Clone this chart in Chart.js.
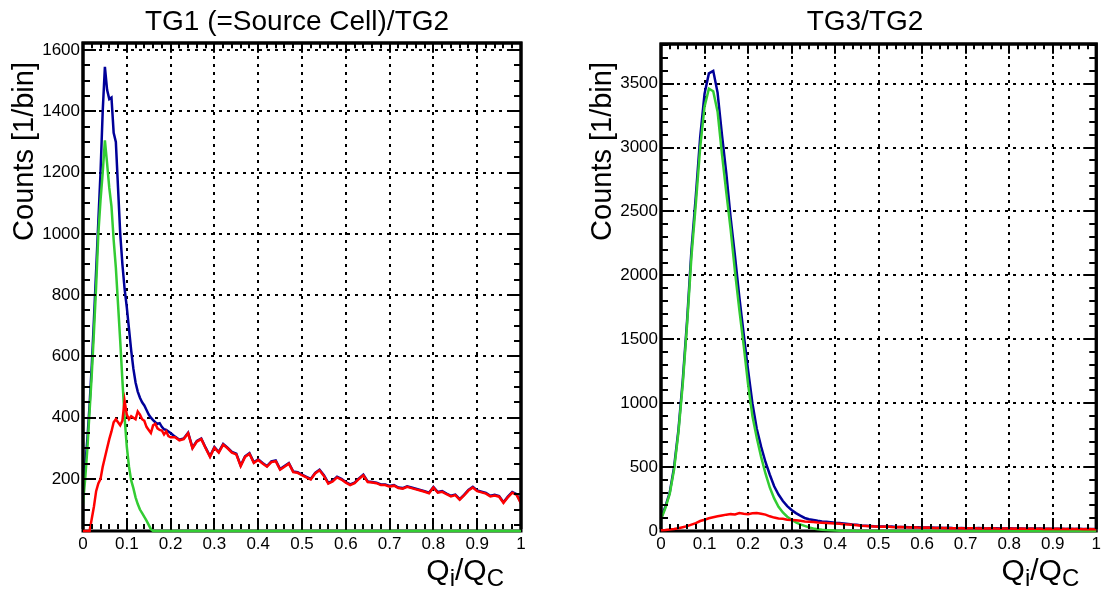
<!DOCTYPE html>
<html><head><meta charset="utf-8">
<script src="https://cdn.jsdelivr.net/npm/chart.js@4.4.1/dist/chart.umd.min.js"></script>
<style>
html,body{margin:0;padding:0;background:#fff;}
#wrap{position:relative;width:1104px;height:589px;background:#fff;}
.pane{position:absolute;top:0;width:552px;height:589px;}
canvas{display:block;}
</style></head><body>
<div id="wrap">
<div class="pane" style="left:0"><canvas id="c1" width="552" height="589"></canvas></div>
<div class="pane" style="left:552px"><canvas id="c2" width="552" height="589"></canvas></div>
</div>
<script>
// ---------- data ----------
const titles = ['TG1 (=Source Cell)/TG2', 'TG3/TG2'];
const yTitle = 'Counts [1/bin]';
const xTicks = [0,0.1,0.2,0.3,0.4,0.5,0.6,0.7,0.8,0.9,1];
const xTickLabels = ['0','0.1','0.2','0.3','0.4','0.5','0.6','0.7','0.8','0.9','1'];
const leftYTicks = [200,400,600,800,1000,1200,1400,1600];
const rightYTicks = [0,500,1000,1500,2000,2500,3000,3500];

const leftQ = [0,0.005,0.01,0.015,0.02,0.025,0.03,0.035,0.04,0.045,0.05,0.055,0.06,0.065,0.07,0.075,0.08,0.085,0.09,0.095,
  0.1,0.105,0.11,0.115,0.12,0.125,0.13,0.135,0.14,0.145,0.15,0.155,0.16,0.165,0.17,0.175,0.18,0.185,0.19,0.195,0.2,
  0.21,0.22,0.23,0.24,0.25,0.26,0.27,0.28,0.29,0.3,0.31,0.32,0.33,0.34,0.35,0.36,0.37,0.38,0.39,0.4,
  0.41,0.42,0.43,0.44,0.45,0.46,0.47,0.48,0.49,0.5,0.51,0.52,0.53,0.54,0.55,0.56,0.57,0.58,0.59,0.6,
  0.61,0.62,0.63,0.64,0.65,0.66,0.67,0.68,0.69,0.7,0.71,0.72,0.73,0.74,0.75,0.76,0.77,0.78,0.79,0.8,
  0.81,0.82,0.83,0.84,0.85,0.86,0.87,0.88,0.89,0.9,0.91,0.92,0.93,0.94,0.95,0.96,0.97,0.98,0.99,1.0];
const leftBlue = [150,240,330,440,570,720,880,1040,1200,1400,1545,1470,1440,1445,1330,1300,1150,1000,900,820,
  760,690,620,560,515,485,465,450,440,425,410,400,392,385,380,382,370,362,360,355,350,
  338,328,332,351,302,324,332,302,274,304,288,314,302,288,282,244,274,284,254,264,
  252,242,257,260,232,242,252,224,222,214,207,200,220,230,212,187,194,207,200,190,
  182,188,202,214,192,190,188,182,182,177,180,172,170,176,172,168,164,160,155,174,
  157,160,152,145,149,134,148,164,174,162,158,154,145,148,144,124,142,157,150,122];
const leftGreen = [120,200,300,420,540,680,830,1000,1110,1200,1305,1230,1150,1090,980,890,770,650,520,400,
  305,240,195,170,140,118,100,88,76,64,50,36,22,10,0,0,0,0,0,0,0,
  0,0,0,0,0,0,0,0,0,0,0,0,0,0,0,0,0,0,0,0,
  0,0,0,0,0,0,0,0,0,0,0,0,0,0,0,0,0,0,0,0,
  0,0,0,0,0,0,0,0,0,0,0,0,0,0,0,0,0,0,0,0,
  0,0,0,0,0,0,0,0,0,0,0,0,0,0,0,0,0,0,0,0];
const leftRed = [0,0,0,10,70,110,160,185,200,240,270,300,330,355,385,395,385,375,390,455,
  410,395,405,400,395,420,410,395,390,370,360,350,375,380,365,360,358,345,355,340,336,
  336,326,330,349,300,322,330,300,272,302,286,312,300,286,280,242,272,282,252,262,
  250,240,255,258,230,240,250,222,220,212,205,198,218,228,210,185,192,205,198,188,
  180,186,200,212,190,188,186,180,180,175,178,170,168,174,170,166,162,158,153,172,
  155,158,150,143,147,132,146,162,172,160,156,152,143,146,142,122,140,155,148,120];

const rightQ = [0,0.01,0.02,0.03,0.04,0.05,0.06,0.07,0.08,0.09,0.1,0.11,0.12,0.13,0.14,0.15,0.16,0.17,0.18,0.19,
  0.2,0.21,0.22,0.23,0.24,0.25,0.26,0.27,0.28,0.29,0.3,0.31,0.32,0.33,0.34,0.35,0.36,0.37,0.38,0.39,
  0.4,0.41,0.42,0.43,0.44,0.45,0.46,0.47,0.48,0.49,0.5,0.51,0.52,0.53,0.54,0.55,0.56,0.57,0.58,0.59,
  0.6,0.61,0.62,0.63,0.64,0.65,0.66,0.67,0.68,0.69,0.7,0.71,0.72,0.73,0.74,0.75,0.76,0.77,0.78,0.79,
  0.8,0.81,0.82,0.83,0.84,0.85,0.86,0.87,0.88,0.89,0.9,0.91,0.92,0.93,0.94,0.95,0.96,0.97,0.98,0.99,1.0];
const rightBlue = [100,190,300,500,790,1180,1650,2200,2620,3080,
  3420,3580,3600,3430,3100,2800,2450,2150,1830,1540,
  1260,1000,800,660,540,440,350,285,235,195,
  165,140,120,102,92,86,80,75,72,68,
  64,62,58,54,50,48,44,42,40,37,
  35,35,34,36,32,31,32,30,29,30,
  28,27,28,26,25,24,25,23,22,23,
  22,21,22,23,21,20,21,22,20,19,
  21,20,19,20,18,19,18,19,18,17,
  18,17,18,16,17,16,17,16,15,16,15];
const rightGreen = [90,180,290,480,770,1150,1620,2150,2560,3000,
  3320,3460,3440,3280,2950,2650,2360,2030,1730,1450,
  1150,900,730,580,450,340,255,190,145,112,
  88,68,52,40,28,20,14,10,7,5,
  3,2,2,1,1,0,0,0,0,0,
  0,0,0,0,0,0,0,0,0,0,
  0,0,0,0,0,0,0,0,0,0,
  0,0,0,0,0,0,0,0,0,0,
  0,0,0,0,0,0,0,0,0,0,
  0,0,0,0,0,0,0,0,0,0,0];
const rightRed = [5,8,12,16,22,30,38,50,62,78,
  88,100,108,115,122,128,132,130,140,135,
  132,138,140,135,128,115,105,98,95,88,
  86,84,80,74,72,70,66,64,62,60,
  58,56,52,50,48,45,42,40,38,36,
  34,33,35,31,30,31,29,28,29,27,
  26,27,25,24,23,24,22,21,22,21,
  20,21,22,20,19,20,21,19,18,20,
  19,18,19,17,18,17,18,17,16,17,
  16,17,15,16,15,16,15,14,15,14,14];

// ---------- styling ----------
const FONT = "'Liberation Sans', Arial, Helvetica, sans-serif";
const BLUE = '#000099', GREEN = '#33cc33', RED = '#ff0000';

function pts(xs, ys, ymin) {
  return xs.map((q, i) => ({x: q, y: Math.max(ys[i], ymin)}));
}

const rootStyle = {
  id: 'rootStyle',
  beforeDatasetsDraw(chart, args, o) {
    const {ctx, chartArea: a, scales: {x, y}} = chart;
    ctx.save();
    ctx.strokeStyle = '#000';
    ctx.lineWidth = 2;
    ctx.setLineDash([3, 5]);
    o.xGrid.forEach(v => {
      const px = Math.round(x.getPixelForValue(v));
      ctx.beginPath(); ctx.moveTo(px, a.bottom); ctx.lineTo(px, a.top); ctx.stroke();
    });
    o.yGrid.forEach(v => {
      const py = Math.round(y.getPixelForValue(v));
      ctx.beginPath(); ctx.moveTo(a.left, py); ctx.lineTo(a.right, py); ctx.stroke();
    });
    ctx.setLineDash([]);
    // frame (under the histograms, as in ROOT)
    ctx.lineWidth = 3;
    ctx.strokeRect(a.left, a.top, a.right - a.left, a.bottom - a.top);
    ctx.restore();
  },
  afterDatasetsDraw(chart, args, o) {
    const {ctx, chartArea: a, scales: {x, y}} = chart;
    ctx.save();
    ctx.strokeStyle = '#000';
    ctx.lineWidth = 2;
    const MAJ = 13, MIN = 7;
    // x ticks (bottom and top)
    for (let i = 0; i <= 50; i++) {
      const v = i * 0.02;
      const px = Math.round(x.getPixelForValue(v));
      const len = (i % 5 === 0) ? MAJ : MIN;
      ctx.beginPath();
      ctx.moveTo(px, a.bottom - 2); ctx.lineTo(px, a.bottom - len);
      ctx.moveTo(px, a.top); ctx.lineTo(px, a.top + len * 0.75);
      ctx.stroke();
    }
    // y ticks (left and right)
    for (let v = o.yMinorStep; v <= y.max; v += o.yMinorStep) {
      if (v < y.min) continue;
      const py = Math.round(y.getPixelForValue(v));
      const len = (v % o.yMajorStep === 0) ? MAJ : MIN;
      ctx.beginPath();
      ctx.moveTo(a.left, py); ctx.lineTo(a.left + len, py);
      ctx.moveTo(a.right, py); ctx.lineTo(a.right - len, py);
      ctx.stroke();
    }
    // left / right / top frame edges on top of data
    ctx.lineWidth = 3;
    ctx.beginPath();
    ctx.moveTo(a.left, a.bottom - 2); ctx.lineTo(a.left, a.top); ctx.lineTo(a.right, a.top); ctx.lineTo(a.right, a.bottom - 2);
    ctx.stroke();
    ctx.restore();

    // texts
    ctx.save();
    ctx.fillStyle = '#000';
    ctx.font = '28px ' + FONT;
    ctx.textAlign = 'center';
    ctx.textBaseline = 'alphabetic';
    ctx.fillText(o.title, o.titleX, 30);
    ctx.save();
    ctx.translate(a.left - 50, 62);
    ctx.rotate(-Math.PI / 2);
    ctx.textAlign = 'right';
    ctx.font = '29px ' + FONT;
    ctx.fillText(yTitle, 0, 0);
    ctx.restore();
    const parts = [['Q', 30, 0], ['i', 24, 6], ['/', 30, 0], ['Q', 30, 0], ['C', 24, 6]];
    ctx.textAlign = 'left';
    let total = 0;
    parts.forEach(p => { ctx.font = p[1] + 'px ' + FONT; total += ctx.measureText(p[0]).width; });
    let cx = a.right - 17 - total;
    const base = a.bottom + 49;
    parts.forEach(p => {
      ctx.font = p[1] + 'px ' + FONT;
      ctx.fillText(p[0], cx, base + p[2]);
      cx += ctx.measureText(p[0]).width;
    });
    ctx.restore();
  }
};

function makeChart(id, cfg) {
  const ctx = document.getElementById(id).getContext('2d');
  return new Chart(ctx, {
    type: 'line',
    data: {
      datasets: [
        {data: pts(cfg.q, cfg.red, cfg.ymin), borderColor: RED, order: 0},
        {data: pts(cfg.q, cfg.green, cfg.ymin), borderColor: GREEN, order: 1},
        {data: pts(cfg.q, cfg.blue, cfg.ymin), borderColor: BLUE, order: 2}
      ]
    },
    options: {
      responsive: false,
      animation: false,
      devicePixelRatio: 1,
      parsing: false,
      normalized: true,
      datasets: {line: {clip: 4}},
      elements: {
        line: {borderWidth: 2.5, tension: 0, fill: false, borderJoinStyle: 'miter'},
        point: {radius: 0, hoverRadius: 0}
      },
      layout: {padding: {top: cfg.padTop, right: cfg.padRight, left: 0, bottom: 0}},
      plugins: {
        legend: {display: false},
        tooltip: {enabled: false},
        title: {display: false},
        rootStyle: {
          title: cfg.title, titleX: cfg.titleX,
          xGrid: xTicks.slice(1, -1),
          yGrid: cfg.yTicks.filter(v => v > cfg.ymin),
          yMinorStep: cfg.yMinorStep, yMajorStep: cfg.yMajorStep
        }
      },
      scales: {
        x: {
          type: 'linear', min: 0, max: 1,
          grid: {display: false, drawTicks: false},
          border: {display: false},
          afterBuildTicks: s => { s.ticks = xTicks.map(v => ({value: v})); },
          afterFit: s => { s.height = 58; },
          ticks: {
            autoSkip: false, maxRotation: 0, padding: 3, color: '#000',
            font: {family: FONT, size: 17},
            callback: (v, i) => xTickLabels[i]
          }
        },
        y: {
          type: 'linear', min: cfg.ymin, max: cfg.ymax,
          grid: {display: false, drawTicks: false},
          border: {display: false},
          afterBuildTicks: s => { s.ticks = cfg.yTicks.map(v => ({value: v})); },
          afterFit: s => { s.width = cfg.yWidth; },
          ticks: {
            autoSkip: false, padding: 3, color: '#000',
            font: {family: FONT, size: 17},
            callback: v => String(v)
          }
        }
      }
    },
    plugins: [rootStyle]
  });
}

makeChart('c1', {
  q: leftQ, blue: leftBlue, green: leftGreen, red: leftRed,
  ymin: 30, ymax: 1623, yTicks: leftYTicks, yMinorStep: 50, yMajorStep: 200,
  yWidth: 83, padTop: 43, padRight: 31, title: titles[0], titleX: 297
});
makeChart('c2', {
  q: rightQ, blue: rightBlue, green: rightGreen, red: rightRed,
  ymin: 0, ymax: 3810, yTicks: rightYTicks, yMinorStep: 100, yMajorStep: 500,
  yWidth: 109, padTop: 44, padRight: 5, title: titles[1], titleX: 313
});
</script>
</body></html>
